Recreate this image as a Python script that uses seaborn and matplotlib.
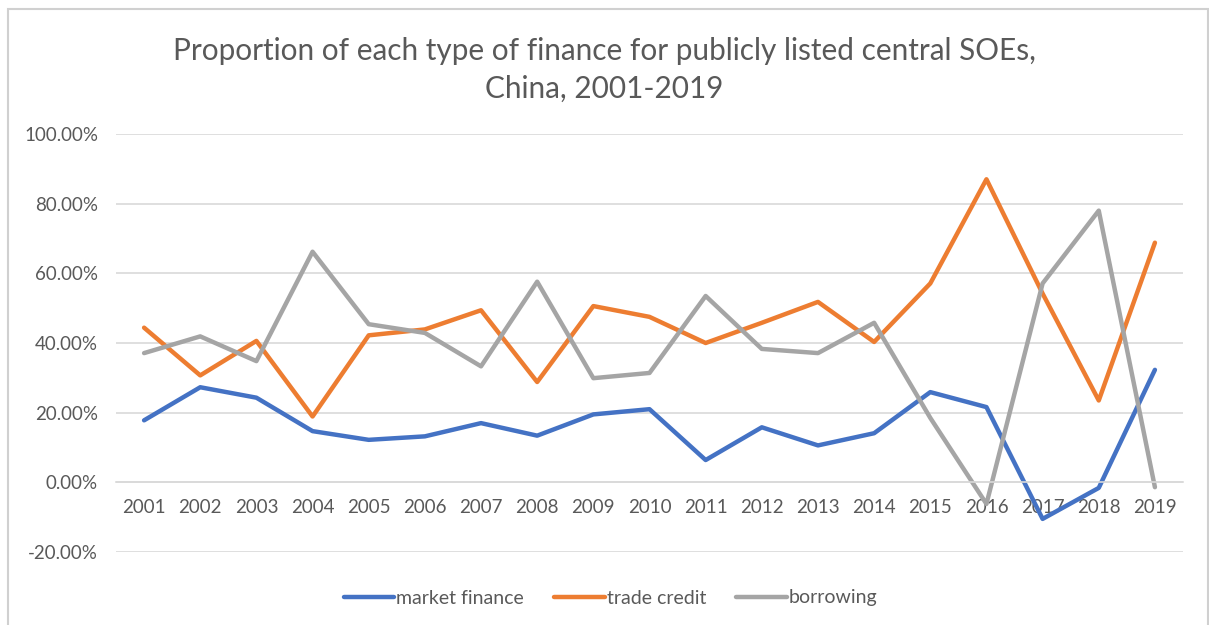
import matplotlib
matplotlib.use("Agg")
import matplotlib.pyplot as plt
from matplotlib.patches import Rectangle
from matplotlib.ticker import FuncFormatter, MultipleLocator
import seaborn as sns
import pandas as pd

# Shares of each financing type (percent of total), 2001-2019
years = [str(y) for y in range(2001, 2020)]
market_finance = [17.8, 27.3, 24.3, 14.7, 12.2, 13.2, 17.0, 13.4, 19.5, 21.0,
                  6.4, 15.8, 10.6, 14.1, 25.9, 21.6, -10.5, -1.6, 32.3]
trade_credit = [44.4, 30.7, 40.6, 18.9, 42.2, 43.9, 49.4, 28.8, 50.6, 47.5,
                40.0, 45.8, 51.8, 40.3, 57.1, 87.0, 54.2, 23.5, 68.8]
borrowing = [37.1, 41.9, 34.8, 66.2, 45.4, 42.9, 33.3, 57.6, 29.9, 31.4,
             53.5, 38.3, 37.1, 45.8, 18.5, -6.2, 57.1, 78.0, -1.4]
series_names = ["market finance", "trade credit", "borrowing"]
series_colors = ["#4472C4", "#ED7D31", "#A5A5A5"]

df = pd.DataFrame({
    "pos": list(range(len(years))) * 3,
    "value": market_finance + trade_credit + borrowing,
    "series": sum([[n] * len(years) for n in series_names], []),
})

sns.set_theme(style="white")
plt.rcParams["font.family"] = ["Lato", "DejaVu Sans"]
text_color = "#595959"
grid_color = "#D9D9D9"

fig = plt.figure(figsize=(12.09, 6.25), dpi=100)
ax = fig.add_axes([116 / 1209, 1 - 552 / 625, (1183 - 116) / 1209, (552 - 134) / 625])

sns.lineplot(data=df, x="pos", y="value", hue="series", hue_order=series_names,
             palette=dict(zip(series_names, series_colors)), linewidth=3.2,
             ax=ax, legend=False, sort=False)

ax.set_xlim(-0.5, len(years) - 0.5)
ax.set_ylim(-20, 100)
ax.yaxis.set_major_locator(MultipleLocator(20))
ax.yaxis.set_major_formatter(FuncFormatter(lambda v, _: f"{v:.2f}%"))
ax.set_xticks(range(len(years)))
ax.set_xticklabels(years)
ax.grid(axis="y", color=grid_color, linewidth=1.2)
ax.set_axisbelow(True)
for side in ["top", "right", "left"]:
    ax.spines[side].set_visible(False)
ax.spines["bottom"].set_position(("data", 0))
ax.spines["bottom"].set_color(grid_color)
ax.spines["bottom"].set_linewidth(1.2)
ax.tick_params(axis="x", length=0, pad=12, labelsize=13.5, labelcolor=text_color)
ax.tick_params(axis="y", length=0, pad=13, labelsize=13.5, labelcolor=text_color)
ax.set_xlabel("")
ax.set_ylabel("")

fig.text(0.5, 1 - 51 / 625, "Proportion of each type of finance for publicly listed central SOEs,",
         ha="center", va="center", fontsize=21.4, color=text_color)
fig.text(0.5, 1 - 89 / 625, "China, 2001-2019",
         ha="center", va="center", fontsize=21.4, color=text_color)

handles = [plt.Line2D([], [], color=c, linewidth=3.2, solid_capstyle="round")
           for c in series_colors]
fig.legend(handles, series_names, loc="center", bbox_to_anchor=(0.505, 1 - 598 / 625),
           ncol=3, frameon=False, fontsize=14, labelcolor=text_color,
           handlelength=2.6, handletextpad=0.1, columnspacing=1.55)

fig.patches.append(Rectangle((8 / 1209, -0.02), 1200 / 1209, 1.02 - 9 / 625,
                             transform=fig.transFigure, fill=False,
                             edgecolor="#D0D0D0", linewidth=1.5))

fig.savefig("out.png", dpi=100, facecolor="white")
